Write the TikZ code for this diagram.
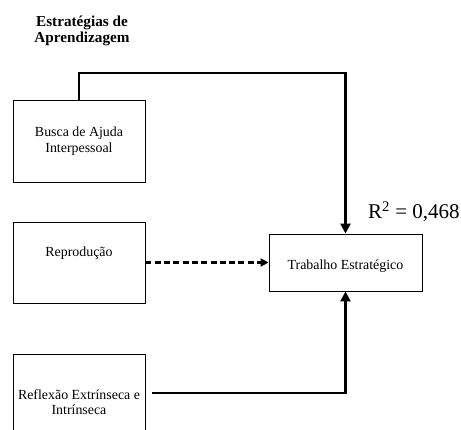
\documentclass[tikz,border=0pt]{standalone}
\usepackage{fontspec}
\setmainfont{Liberation Serif}
\usetikzlibrary{arrows.meta}
\begin{document}
\begin{tikzpicture}[x=1pt,y=-1pt,
  box/.style={draw,line width=0.9pt,inner sep=0pt,minimum width=132pt},
  boxtext/.style={align=center,inner sep=0pt,font=\fontsize{13.9}{15.5}\selectfont},
  link/.style={line width=2.6pt,-{Triangle[length=10pt,width=10pt]}},
  dlink/.style={line width=2.2pt,dash pattern=on 6pt off 3.3pt,-{Triangle[length=8pt,width=8pt]}}]
\useasboundingbox (0,0) rectangle (461,430);
\clip (0,0) rectangle (461,430);

% heading
\node[align=center,inner sep=0pt,font=\bfseries\fontsize{15.2}{16.5}\selectfont] (head) at (82,31) {Estratégias de\\Aprendizagem};

% predictor boxes
\node[box,minimum height=82pt] (busca) at (79,141) {};
\node[boxtext] (buscat) at (79,141) {Busca de Ajuda\\Interpessoal};

\node[box,minimum height=81pt] (rep) at (79,262.5) {};
\node[boxtext] (rept) at (79,253) {Reprodução};

\node[box,minimum height=100pt] (refl) at (79,404) {};
\node[boxtext] (reflt) at (79,402) {Reflexão Extrínseca e\\Intrínseca};

% outcome box
\node[box,minimum width=153pt,minimum height=57pt] (trab) at (345.5,262.5) {};
\node[boxtext] (trabt) at (345.5,266) {Trabalho Estratégico};

\node[anchor=base west,inner sep=0pt,font=\fontsize{21}{24}\selectfont] (r2) at (368,219) {R$^{\mathrm{2}}$ = 0,468};

% paths
\draw[link] (busca.north) -- (79,73) -| (trab.north);
\draw[dlink] (rep.east) -- (trab.west);
\coordinate (rstart) at (152,393);
\draw[link] (rstart) -| (trab.south);
\end{tikzpicture}
\end{document}
